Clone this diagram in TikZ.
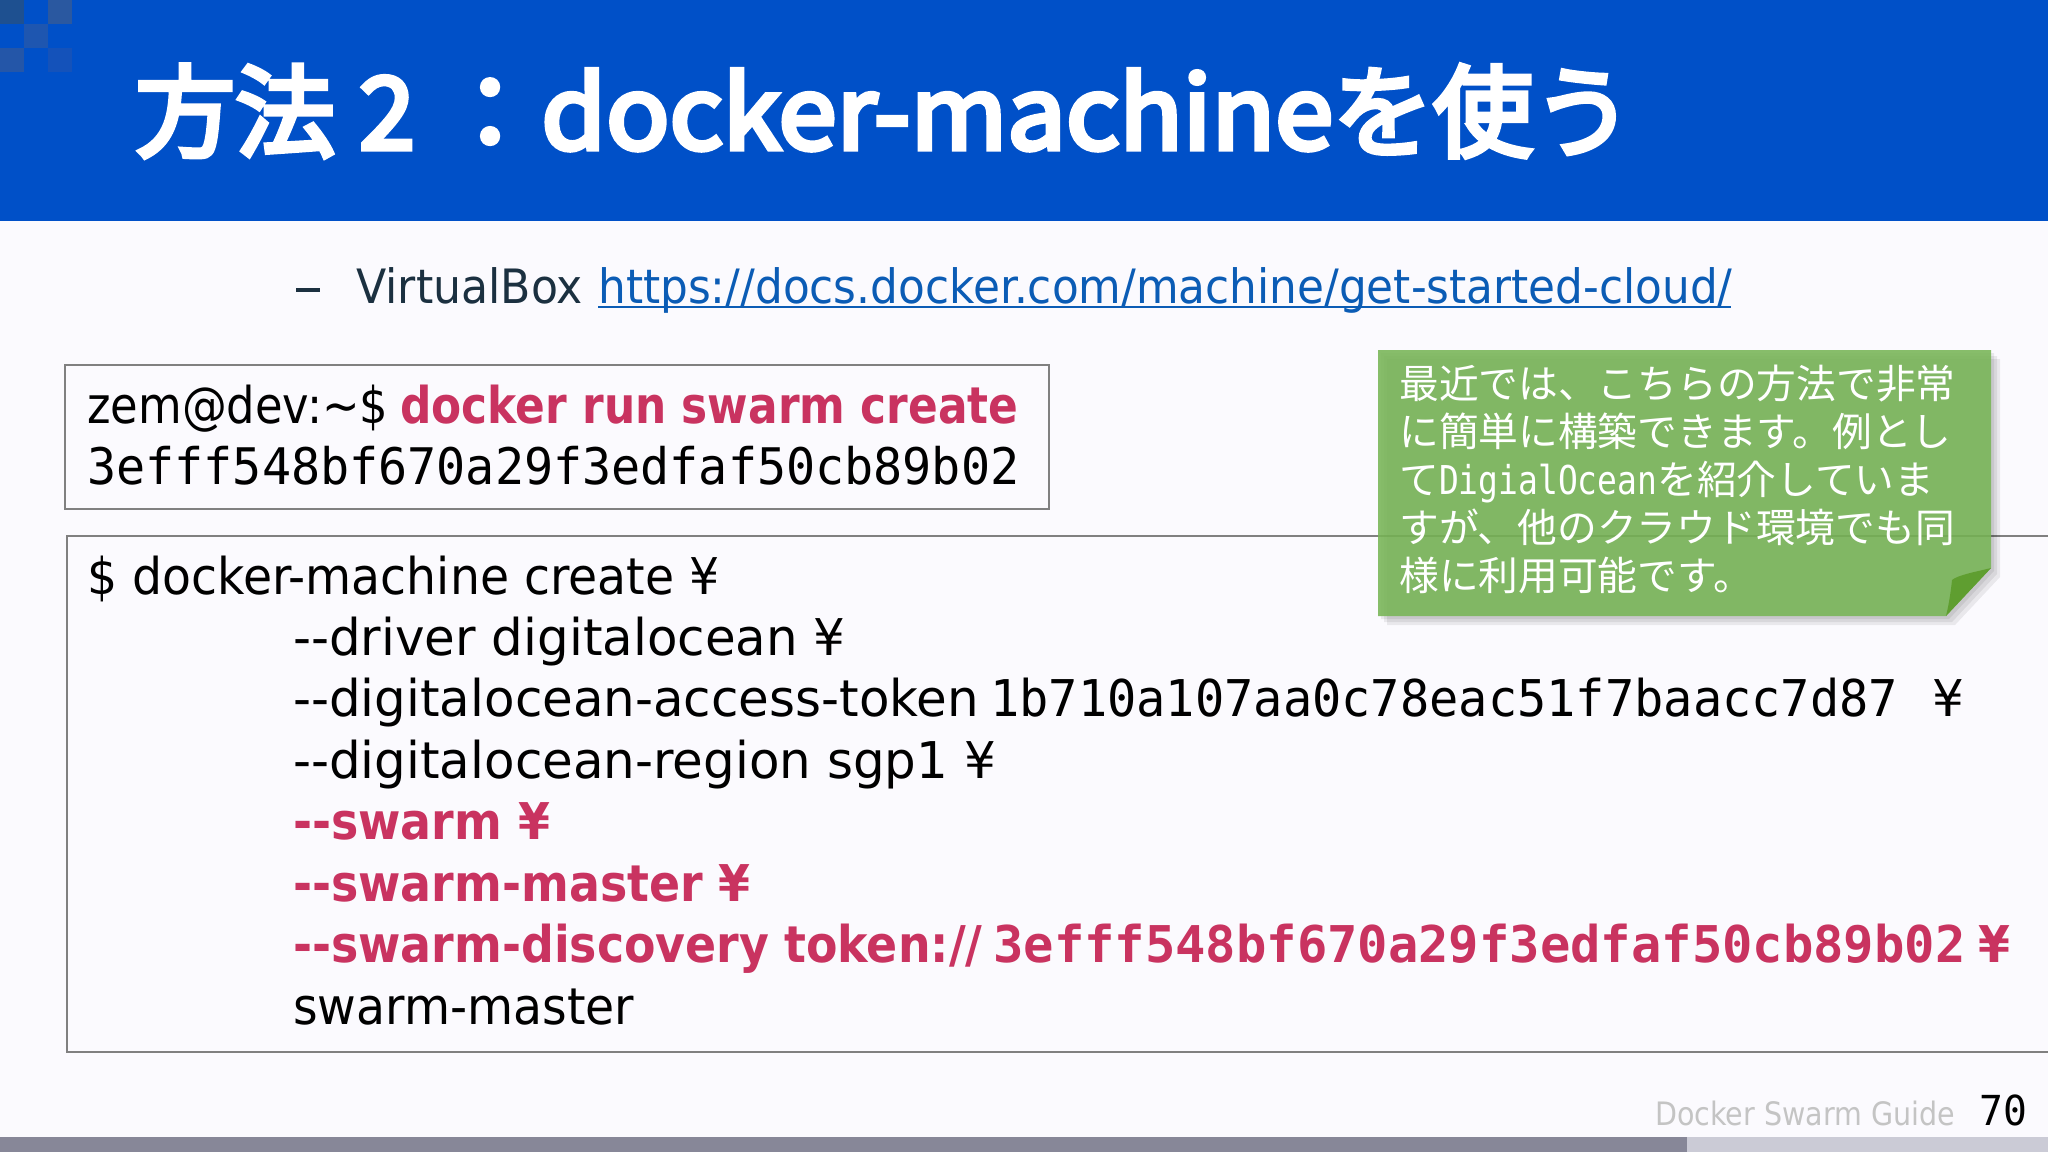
\documentclass[tikz,border=0pt]{standalone}
\usepackage{fontspec}
\setmainfont{Noto Sans CJK JP}
\newfontfamily\titlefont[FakeBold=5]{Noto Sans CJK JP}
\newfontfamily\titlelatin[FakeBold=5,FakeStretch=1.045]{Noto Sans CJK JP}
\newfontfamily\wordfont[FakeStretch=0.934]{DejaVu Sans}
\newfontfamily\linkfont[FakeStretch=0.925]{DejaVu Sans}
\newfontfamily\longfont[FakeStretch=0.985]{DejaVu Sans}
\newfontfamily\promptfont[FakeStretch=0.885]{DejaVu Sans}
\newfontfamily\redfont[FakeStretch=0.905]{DejaVu Sans}
\newfontfamily\runfont[FakeStretch=0.866]{DejaVu Sans}
\newfontfamily\hashfont[FakeStretch=0.96]{DejaVu Sans Mono}
\newfontfamily\hashboldfont[FakeStretch=0.996]{DejaVu Sans Mono}
\newfontfamily\notefont[FakeStretch=0.83]{DejaVu Sans Mono}
\definecolor{barblue}{HTML}{0050C8}
\definecolor{pagewhite}{HTML}{FBFAFE}
\definecolor{cmdred}{HTML}{C93360}
\definecolor{notegreen}{HTML}{78B556}
\definecolor{foldgreen}{HTML}{5F9E30}
\definecolor{linkblue}{HTML}{0B5CB5}
\definecolor{boxgray}{HTML}{808080}
\tikzset{
    codeline/.style={anchor=base west,inner sep=0pt,font=\fontsize{38}{38}\selectfont\longfont},
    redline/.style={codeline,text=cmdred,font=\fontsize{38}{38}\selectfont\redfont\bfseries},
    noteline/.style={anchor=base west,inner sep=0pt,text=white,font=\fontsize{29.8}{29.8}\selectfont},
    codebox/.style={draw=boxgray,line width=1.5pt},
}
\begin{document}
\begin{tikzpicture}[x=0.75pt,y=0.75pt,yscale=-1,xscale=1]
    \clip (0,0) rectangle (2048,1152);

    % Background
    \fill [pagewhite] (0,0) rectangle (2048,1152);
    \fill [barblue] (0,0) rectangle (2048,221);
    \fill [fill={rgb,255:red,30;green,80;blue,144}] (0,0) rectangle (24,24);
    \fill [fill={rgb,255:red,42;green,88;blue,160}] (48,0) rectangle (72,24);
    \fill [fill={rgb,255:red,30;green,86;blue,176}] (24,24) rectangle (48,48);
    \fill [fill={rgb,255:red,36;green,86;blue,168}] (0,48) rectangle (24,72);
    \fill [fill={rgb,255:red,20;green,82;blue,186}] (48,48) rectangle (72,72);

    % Footer bar
    \fill [fill={rgb,255:red,203;green,203;blue,214}] (0,1137) rectangle (2048,1152);
    \fill [fill={rgb,255:red,135;green,135;blue,152}] (0,1137) rectangle (1687,1152);

    % Title
    \draw (135,149) node (title) [anchor=base west,inner sep=0pt,text=white,font=\fontsize{75}{75}\selectfont\titlefont] {方法\hspace{18pt}2\hspace{19pt}：\hspace{1pt}{\titlelatin docker-machine}を使う};

    % Link line
    \draw [line width=3pt,color={rgb,255:red,27;green,48;blue,64}] (296,290) -- (320,290);
    \draw (356,303) node (vbox) [codeline,text={rgb,255:red,27;green,48;blue,64},font=\fontsize{35.5}{35.5}\selectfont\wordfont] {VirtualBox};
    \draw (598,303) node (link) [codeline,text=linkblue,font=\fontsize{35.5}{35.5}\selectfont\linkfont] {https://docs.docker.com/machine/get-started-cloud/};
    \draw [line width=2pt,color=linkblue] (598,307) -- (1731,307);

    % Token box
    \draw [codebox] (64.5,365) rectangle (1049,509);
    \draw (87,423) node (prompt) [codeline,font=\fontsize{38}{38}\selectfont\promptfont] {zem@dev:\textasciitilde\$};
    \draw (400,423) node (runcmd) [redline,font=\fontsize{38}{38}\selectfont\runfont\bfseries] {docker run swarm create};
    \draw (87,484) node (token) [codeline,font=\fontsize{37.8}{38}\selectfont\hashfont] {3efff548bf670a29f3edfaf50cb89b02};

    % Machine box
    \draw [codebox] (66.5,535.5) rectangle (2070,1052);
    \draw (87,594) node (mline1) [codeline,font=\fontsize{38}{38}\selectfont\wordfont] {\$ docker-machine create ¥};
    \draw (293,655.4) node (mline2) [codeline] {--driver digitalocean ¥};
    \draw (293,716.8) node (mline3) [codeline] {--digitalocean-access-token};
    \draw (990,716.8) node (mline3b) [codeline,font=\fontsize{38}{38}\selectfont\hashfont] {1b710a107aa0c78eac51f7baacc7d87};
    \draw (1932,716.8) node (mline3c) [codeline] {¥};
    \draw (293,778.2) node (mline4) [codeline] {--digitalocean-region sgp1 ¥};
    \draw (293,839.6) node (mline5) [redline] {--swarm ¥};
    \draw (293,901) node (mline6) [redline] {--swarm-master ¥};
    \draw (293,962.4) node (mline7) [redline] {--swarm-discovery};
    \draw (784,962.4) node (mline7b) [redline] {token://};
    \draw (993,962.4) node (mline7c) [redline,font=\fontsize{38}{38}\selectfont\hashboldfont\bfseries] {3efff548bf670a29f3edfaf50cb89b02};
    \draw (1978,962.4) node (mline7d) [redline] {¥};
    \draw (293,1024) node (mline8) [codeline,font=\fontsize{38}{38}\selectfont\wordfont] {swarm-master};

    % Sticky note
    \foreach \off in {3,6,9} {
        \fill [black,opacity=0.07] (1378+\off,350+\off) -- (1991+\off,350+\off) -- (1991+\off,568+\off) -- (1946+\off,616+\off) -- (1378+\off,616+\off) -- cycle;
    }
    \fill [notegreen,opacity=0.88] (1378,350) -- (1991,350) -- (1991,568) -- (1946,616) -- (1378,616) -- cycle;
    \fill [foldgreen] (1991,568) .. controls (1975,572) and (1958,575) .. (1952,580) .. controls (1951,590) and (1949,604) .. (1946,616) -- cycle;
    \draw (1399,398) node (note1) [noteline] {最近では、こちらの方法で非常};
    \draw (1399,446) node (note2) [noteline] {に簡単に構築できます。例とし};
    \draw (1399,494) node (note3) [noteline] {て{\notefont DigialOcean}を紹介していま};
    \draw (1399,542) node (note4) [noteline] {すが、他のクラウド環境でも同};
    \draw (1399,590) node (note5) [noteline] {様に利用可能です。};

    % Footer text
    \draw (1655,1125) node (guide) [anchor=base west,inner sep=0pt,text={rgb,255:red,196;green,196;blue,196},font=\fontsize{24.2}{24.2}\selectfont\promptfont] {Docker Swarm Guide};
    \draw (1979,1125) node (pageno) [anchor=base west,inner sep=0pt,text=black,font=\fontsize{31}{31}\selectfont\hashfont] {70};

\end{tikzpicture}
\end{document}
